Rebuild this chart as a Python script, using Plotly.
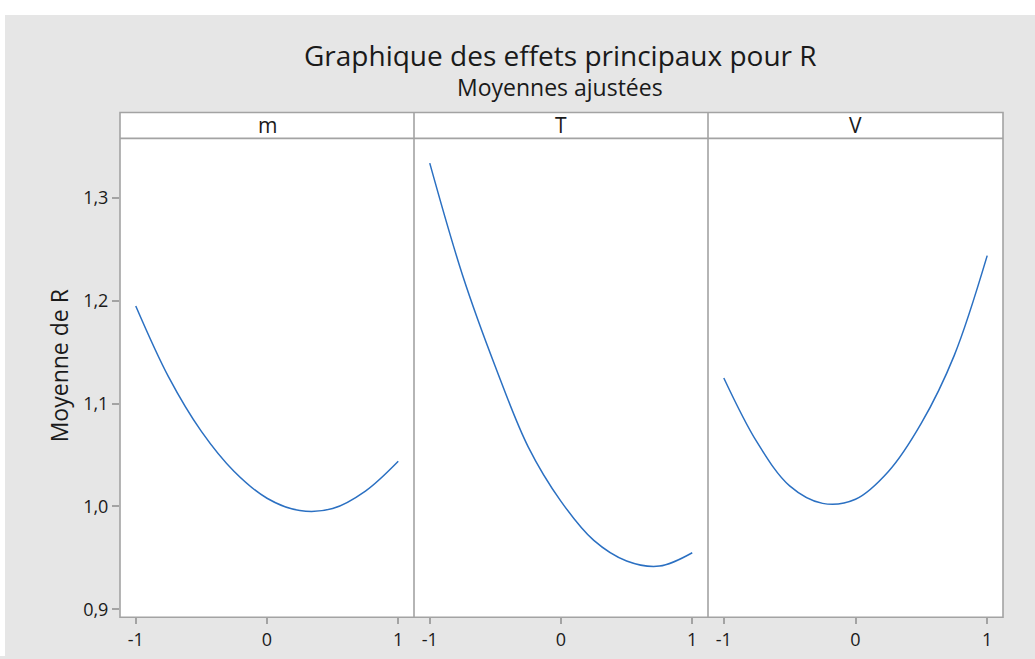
import plotly.graph_objects as go

# Coded factor levels at which the fitted means are drawn
levels = [-1.0, -0.75, -0.5, -0.25, 0.0, 0.25, 0.5, 0.75, 1.0]

# Fitted (adjusted) means of R for each factor
mean_m = [1.195, 1.126, 1.073, 1.034, 1.008, 0.996, 0.998, 1.015, 1.044]
mean_T = [1.334, 1.225, 1.136, 1.058, 1.005, 0.967, 0.947, 0.942, 0.955]
mean_V = [1.125, 1.063, 1.020, 1.003, 1.007, 1.034, 1.081, 1.147, 1.244]

factors = ["m", "T", "V"]
series = [mean_m, mean_T, mean_V]

x_tickvals = [-1, 0, 1]
x_ticktext = ["-1", "0", "1"]
y_tickvals = [0.9, 1.0, 1.1, 1.2, 1.3]

title_text = "Graphique des effets principaux pour R"
subtitle_text = "Moyennes ajustées"
y_title = "Moyenne de R"

W, H = 1035, 659
FONT = "Open Sans"
FRAME = "#a3a3a3"
LINE = "#2b70c2"
TEXT = "#1a1a1a"

def px(x):
    return x / W

def py(y):
    return (H - y) / H

panel_edges = [120, 414, 708, 1003]
plot_top, plot_bottom, strip_top = 139, 620, 113

fig = go.Figure()

for i, (name, vals) in enumerate(zip(factors, series)):
    ax = "" if i == 0 else str(i + 1)
    fig.add_trace(go.Scatter(
        x=levels, y=vals, mode="lines",
        line=dict(color=LINE, width=1.5, shape="spline", smoothing=1.0),
        xaxis="x" + ax, yaxis="y" + ax, showlegend=False, hoverinfo="x+y",
    ))
    xa = dict(
        domain=[px(panel_edges[i]), px(panel_edges[i + 1])],
        range=[-1.12, 1.12],
        tickvals=x_tickvals, ticktext=x_ticktext,
        ticks="outside", ticklen=6, tickcolor=FRAME, tickwidth=1.5,
        showline=False, showgrid=False, zeroline=False,
        tickfont=dict(family=FONT, size=18, color=TEXT),
        anchor="y" + ax, fixedrange=True,
    )
    ya = dict(
        domain=[py(plot_bottom), py(plot_top)],
        range=[0.8923, 1.3581],
        tickvals=y_tickvals, tickformat=".1f",
        showline=False, showgrid=False, zeroline=False,
        anchor="x" + ax, fixedrange=True,
    )
    if i == 0:
        ya.update(ticks="outside", ticklen=7, tickcolor=FRAME, tickwidth=1.5,
                  tickfont=dict(family=FONT, size=18, color=TEXT))
    else:
        ya.update(showticklabels=False, ticks="", matches="y")
    fig.layout["xaxis" + ax] = xa
    fig.layout["yaxis" + ax] = ya

    # facet header strip
    fig.add_shape(type="rect", xref="paper", yref="paper",
                  x0=px(panel_edges[i]), x1=px(panel_edges[i + 1]),
                  y0=py(plot_top), y1=py(strip_top),
                  line=dict(width=0), fillcolor="white", layer="below")
    fig.add_annotation(text=name, xref="paper", yref="paper",
                       x=px((panel_edges[i] + panel_edges[i + 1]) / 2),
                       y=py((plot_top + strip_top) / 2),
                       showarrow=False, xanchor="center", yanchor="middle",
                       font=dict(family=FONT, size=21, color=TEXT))

# panel frame: outer box, strip separator and panel dividers
frame = dict(color=FRAME, width=1.6)
fig.add_shape(type="rect", xref="paper", yref="paper",
              x0=px(panel_edges[0]), x1=px(panel_edges[-1]),
              y0=py(plot_bottom), y1=py(strip_top), line=frame, layer="above")
fig.add_shape(type="line", xref="paper", yref="paper",
              x0=px(panel_edges[0]), x1=px(panel_edges[-1]),
              y0=py(plot_top), y1=py(plot_top), line=frame, layer="above")
for xe in panel_edges[1:-1]:
    fig.add_shape(type="line", xref="paper", yref="paper",
                  x0=px(xe), x1=px(xe), y0=py(plot_bottom), y1=py(strip_top),
                  line=frame, layer="above")

# thin white margin at the top and left of the grey page
fig.add_shape(type="rect", xref="paper", yref="paper",
              x0=0, x1=1, y0=py(15), y1=1,
              line=dict(width=0), fillcolor="white", layer="below")
fig.add_shape(type="rect", xref="paper", yref="paper",
              x0=0, x1=px(5), y0=0, y1=1,
              line=dict(width=0), fillcolor="white", layer="below")

fig.add_annotation(text=title_text, xref="paper", yref="paper",
                   x=px(560), y=py(55), showarrow=False,
                   xanchor="center", yanchor="middle",
                   font=dict(family=FONT, size=28, color=TEXT))
fig.add_annotation(text=subtitle_text, xref="paper", yref="paper",
                   x=px(560), y=py(87), showarrow=False,
                   xanchor="center", yanchor="middle",
                   font=dict(family=FONT, size=23, color=TEXT))
fig.add_annotation(text=y_title, xref="paper", yref="paper",
                   x=px(59), y=py(368), showarrow=False, textangle=-90,
                   xanchor="center", yanchor="middle",
                   font=dict(family=FONT, size=23, color=TEXT))

fig.update_layout(
    width=W, height=H,
    margin=dict(l=0, r=0, t=0, b=0),
    paper_bgcolor="#e6e6e6", plot_bgcolor="white",
    separators=", ",
)

fig.write_html("out.html")
